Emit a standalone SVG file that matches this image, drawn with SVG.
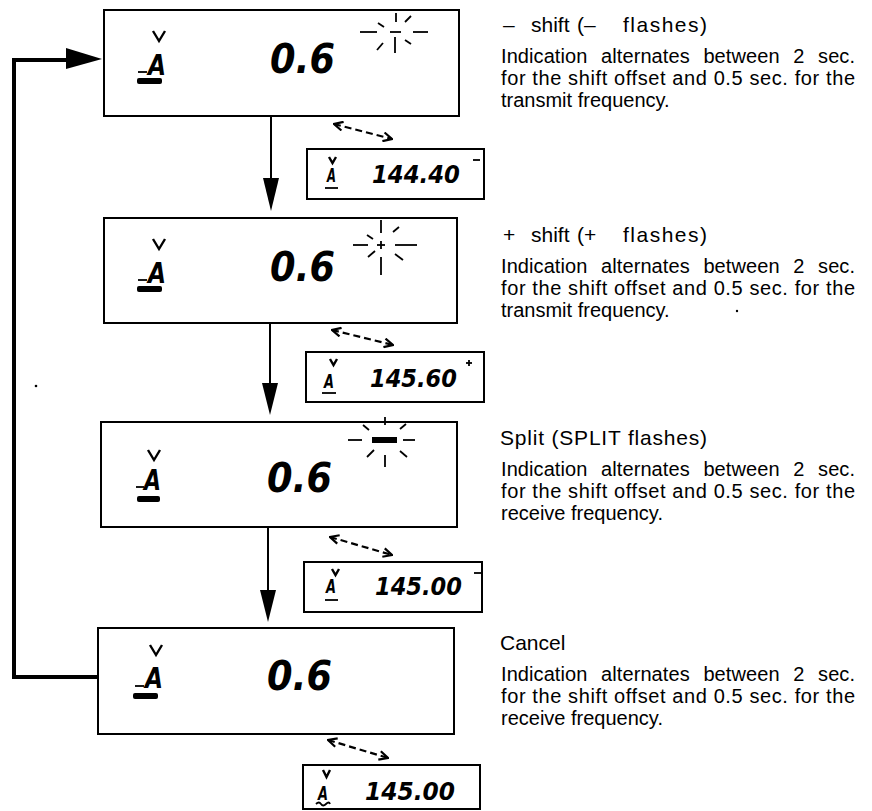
<svg xmlns="http://www.w3.org/2000/svg" width="872" height="811" viewBox="0 0 872 811">
<style>
.box{fill:#fff;stroke:#000;stroke-width:2}
.ray{stroke:#000;stroke-width:1.8;fill:none;stroke-linecap:butt}
.chev{stroke:#000;stroke-width:2.4;fill:none}
.lcdA{font-family:"DejaVu Sans",sans-serif;font-weight:bold;font-style:italic;fill:#000}
.lcd{font-family:"DejaVu Sans",sans-serif;font-weight:bold;font-style:italic;fill:#000}
.lcds{font-family:"DejaVu Sans",sans-serif;font-weight:bold;font-style:italic;fill:#000}
.title{font-family:"Liberation Sans",Arial,sans-serif;font-size:21px;fill:#000}
.body{font-family:"Liberation Sans",Arial,sans-serif;font-size:20px;fill:#000}
.conn{stroke:#000;fill:none}
.dash{stroke:#000;stroke-width:2.2;stroke-dasharray:7 4;fill:none}
</style>
<defs>
<marker id="oa" viewBox="0 0 10 10" refX="9" refY="5" markerWidth="5" markerHeight="5" orient="auto-start-reverse" markerUnits="strokeWidth">
<path d="M1,1 L9,5 L1,9" fill="none" stroke="#000" stroke-width="2"/>
</marker>
</defs>
<rect width="872" height="811" fill="#fff"/>

<g id="connectors">
<line class="conn" x1="271" y1="117" x2="271" y2="182" stroke-width="2"/>
<polygon points="263,178 279,178 271,211" fill="#000"/>
<line class="conn" x1="270" y1="324" x2="270" y2="386" stroke-width="2"/>
<polygon points="262,383 278,383 270,415" fill="#000"/>
<line class="conn" x1="268" y1="528" x2="268" y2="593" stroke-width="2"/>
<polygon points="260,590 276,590 268,622" fill="#000"/>
<path class="conn" d="M99,677 H14 V60 H70" stroke-width="4"/>
<polygon points="66,48 102,59 66,69" fill="#000"/>
<line class="dash" x1="334" y1="124" x2="392" y2="139" marker-start="url(#oa)" marker-end="url(#oa)"/>
<line class="dash" x1="332" y1="330" x2="393" y2="345" marker-start="url(#oa)" marker-end="url(#oa)"/>
<line class="dash" x1="330" y1="537" x2="392" y2="555" marker-start="url(#oa)" marker-end="url(#oa)"/>
<line class="dash" x1="328" y1="740" x2="388" y2="758" marker-start="url(#oa)" marker-end="url(#oa)"/>
</g>

<g id="display1">
<rect class="box" x="104" y="10" width="355" height="106"/>
<polyline class="chev" points="153,31 159,41 165,31"/>
<line class="ray" x1="138" y1="72" x2="147" y2="72" stroke-width="2"/>
<text class="lcdA" x="148" y="75" font-size="28" textLength="18" lengthAdjust="spacingAndGlyphs">A</text>
<rect x="137" y="78" width="25" height="6" rx="2"/>
<text class="lcd" x="270" y="73" font-size="40" textLength="65" lengthAdjust="spacingAndGlyphs">0.6</text>
<g>
<line class="ray" x1="360" y1="32" x2="377" y2="32"/>
<line class="ray" x1="413" y1="32" x2="428" y2="32"/>
<line class="ray" x1="390" y1="32" x2="401" y2="32" stroke-width="3"/>
<line class="ray" x1="396" y1="13" x2="396" y2="22"/>
<line class="ray" x1="395" y1="37" x2="395" y2="53"/>
<line class="ray" x1="378" y1="23" x2="384" y2="27"/>
<line class="ray" x1="405" y1="22" x2="411" y2="16"/>
<line class="ray" x1="377" y1="50" x2="383" y2="43"/>
<line class="ray" x1="405" y1="40" x2="411" y2="44"/>
</g>
</g>

<g id="display2">
<rect class="box" x="104" y="218" width="353" height="105"/>
<polyline class="chev" points="153,239 159,249 165,239"/>
<line class="ray" x1="138" y1="280" x2="147" y2="280" stroke-width="2"/>
<text class="lcdA" x="148" y="283" font-size="28" textLength="18" lengthAdjust="spacingAndGlyphs">A</text>
<rect x="137" y="286" width="25" height="6" rx="2"/>
<text class="lcd" x="270" y="281" font-size="40" textLength="65" lengthAdjust="spacingAndGlyphs">0.6</text>
<g>
<line class="ray" x1="353" y1="245" x2="368" y2="245"/>
<line class="ray" x1="395" y1="245" x2="417" y2="245"/>
<line class="ray" x1="381" y1="220" x2="381" y2="233"/>
<line class="ray" x1="381" y1="257" x2="381" y2="275"/>
<line class="ray" x1="367" y1="235" x2="373" y2="239"/>
<line class="ray" x1="393" y1="232" x2="399" y2="227"/>
<line class="ray" x1="368" y1="257" x2="375" y2="251"/>
<line class="ray" x1="395" y1="254" x2="403" y2="260"/>
<line class="ray" x1="377" y1="245" x2="385" y2="245" stroke-width="2.2"/>
<line class="ray" x1="381" y1="241" x2="381" y2="249" stroke-width="2.2"/>
</g>
</g>

<g id="display3">
<rect class="box" x="101" y="422" width="356" height="105"/>
<polyline class="chev" points="148,450 154,460 160,450"/>
<line class="ray" x1="136" y1="487" x2="144" y2="487" stroke-width="2"/>
<text class="lcdA" x="144" y="490" font-size="28" textLength="17" lengthAdjust="spacingAndGlyphs">A</text>
<rect x="137" y="496" width="23" height="6" rx="2"/>
<text class="lcd" x="267" y="492" font-size="40" textLength="65" lengthAdjust="spacingAndGlyphs">0.6</text>
<g>
<rect x="372" y="437" width="25" height="6"/>
<line class="ray" x1="348" y1="440" x2="362" y2="440"/>
<line class="ray" x1="403" y1="440" x2="415" y2="440"/>
<line class="ray" x1="385" y1="417" x2="385" y2="425"/>
<line class="ray" x1="385" y1="455" x2="385" y2="467"/>
<line class="ray" x1="363" y1="425" x2="369" y2="430"/>
<line class="ray" x1="400" y1="429" x2="406" y2="424"/>
<line class="ray" x1="367" y1="457" x2="374" y2="450"/>
<line class="ray" x1="400" y1="451" x2="407" y2="457"/>
</g>
</g>

<g id="display4">
<rect class="box" x="98" y="628" width="356" height="106"/>
<polyline class="chev" points="150,645 156,655 162,645"/>
<line class="ray" x1="135" y1="686" x2="144" y2="686" stroke-width="2"/>
<text class="lcdA" x="145" y="688" font-size="28" textLength="18" lengthAdjust="spacingAndGlyphs">A</text>
<rect x="133" y="693" width="25" height="6" rx="2"/>
<text class="lcd" x="267" y="690" font-size="40" textLength="65" lengthAdjust="spacingAndGlyphs">0.6</text>
</g>

<g id="freq1">
<rect class="box" x="307" y="149" width="177" height="50"/>
<polyline class="chev" points="329,157 332.5,163 336,157" stroke-width="1.8"/>
<text class="lcds" x="327" y="182" font-size="19" textLength="9" lengthAdjust="spacingAndGlyphs">A</text>
<line class="ray" x1="325" y1="188" x2="338" y2="188" stroke-width="3"/>
<text class="lcds" x="372" y="183" font-size="24" textLength="88" lengthAdjust="spacingAndGlyphs">144.40</text>
<line class="ray" x1="473" y1="160" x2="480" y2="160" stroke-width="2"/>
</g>

<g id="freq2">
<rect class="box" x="306" y="352" width="178" height="50"/>
<polyline class="chev" points="330,359 333.5,365 337,359" stroke-width="1.8"/>
<text class="lcds" x="324" y="388" font-size="19" textLength="10" lengthAdjust="spacingAndGlyphs">A</text>
<line class="ray" x1="322" y1="393" x2="336" y2="393" stroke-width="3"/>
<text class="lcds" x="370" y="387" font-size="24" textLength="87" lengthAdjust="spacingAndGlyphs">145.60</text>
<line class="ray" x1="466" y1="363" x2="472" y2="363" stroke-width="1.5"/>
<line class="ray" x1="469" y1="360" x2="469" y2="366" stroke-width="1.5"/>
</g>

<g id="freq3">
<rect class="box" x="304" y="562" width="178" height="50"/>
<polyline class="chev" points="332,569 335.5,575 339,569" stroke-width="1.8"/>
<text class="lcds" x="326" y="593" font-size="19" textLength="10" lengthAdjust="spacingAndGlyphs">A</text>
<line class="ray" x1="325" y1="600" x2="338" y2="600" stroke-width="3"/>
<text class="lcds" x="375" y="595" font-size="24" textLength="87" lengthAdjust="spacingAndGlyphs">145.00</text>
<line class="ray" x1="474" y1="573" x2="481" y2="573" stroke-width="2"/>
</g>

<g id="freq4">
<rect class="box" x="303" y="765" width="177" height="44"/>
<polyline class="chev" points="323,770 326.5,777 330,770" stroke-width="1.8"/>
<text class="lcds" x="318" y="800" font-size="19" textLength="10" lengthAdjust="spacingAndGlyphs">A</text>
<path class="ray" d="M316,804 q3,-3 5,0 t5,0 t4,0" stroke-width="1.6"/>
<text class="lcds" x="365" y="800" font-size="24" textLength="90" lengthAdjust="spacingAndGlyphs">145.00</text>
</g>

<g id="desc1">
<text class="title" y="32"><tspan x="503">–</tspan><tspan x="531">shift</tspan><tspan x="577">(–</tspan><tspan x="623" textLength="84">flashes)</tspan></text>
<text class="body" x="501" y="63" word-spacing="8" textLength="354">Indication alternates between 2 sec.</text>
<text class="body" x="501" y="85" textLength="354">for the shift offset and 0.5 sec. for the</text>
<text class="body" x="501" y="107">transmit frequency.</text>
</g>

<g id="desc2">
<text class="title" y="242"><tspan x="503">+</tspan><tspan x="531">shift</tspan><tspan x="577">(+</tspan><tspan x="623" textLength="84">flashes)</tspan></text>
<text class="body" x="501" y="273" word-spacing="8" textLength="354">Indication alternates between 2 sec.</text>
<text class="body" x="501" y="295" textLength="354">for the shift offset and 0.5 sec. for the</text>
<text class="body" x="501" y="317">transmit frequency.</text>
</g>

<g id="desc3">
<text class="title" x="500" y="445" textLength="207">Split (SPLIT flashes)</text>
<text class="body" x="501" y="476" word-spacing="8" textLength="354">Indication alternates between 2 sec.</text>
<text class="body" x="501" y="498" textLength="354">for the shift offset and 0.5 sec. for the</text>
<text class="body" x="501" y="520">receive frequency.</text>
</g>

<g id="desc4">
<text class="title" x="500" y="650">Cancel</text>
<text class="body" x="501" y="681" word-spacing="8" textLength="354">Indication alternates between 2 sec.</text>
<text class="body" x="501" y="703" textLength="354">for the shift offset and 0.5 sec. for the</text>
<text class="body" x="501" y="725">receive frequency.</text>
</g>

<circle cx="36" cy="386" r="1.3" fill="#000"/>
<circle cx="737" cy="311" r="1.2" fill="#000"/>
</svg>
